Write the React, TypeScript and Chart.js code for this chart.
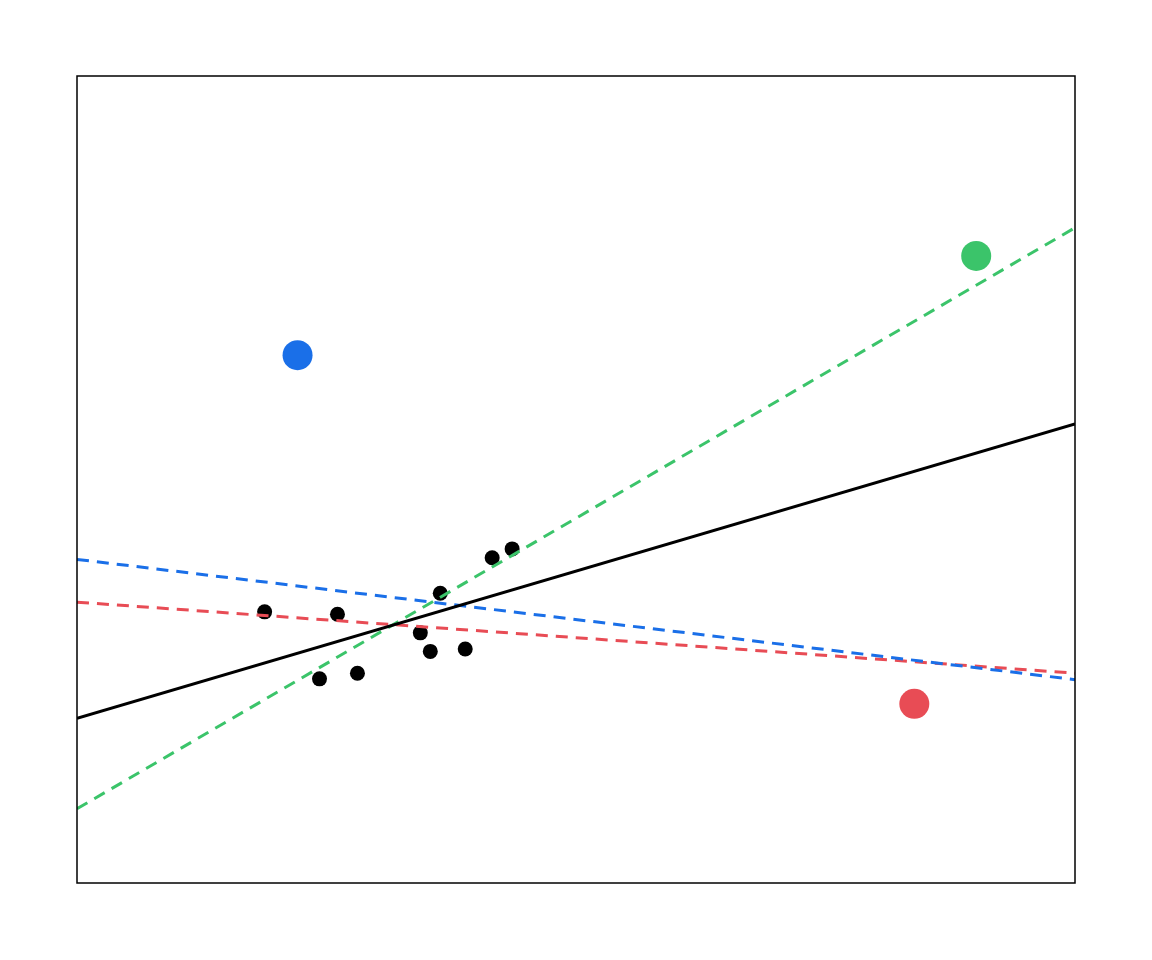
import { useEffect, useRef } from 'react';
import { Chart, registerables } from 'chart.js';

Chart.register(...registerables);

const clusterX = [1.88, 2.61, 2.43, 2.81, 3.44, 3.54, 3.64, 3.89, 4.16, 4.36];
const clusterY = [3.36, 3.33, 2.53, 2.6, 3.1, 2.87, 3.59, 2.9, 4.03, 4.14];

const bluePoint = { x: 2.21, y: 6.54 };
const greenPoint = { x: 9.01, y: 7.77 };
const redPoint = { x: 8.39, y: 2.22 };

const fitBase = [2.04, 5.69];
const fitGreen = [0.92, 8.12];
const fitBlue = [4.01, 2.52];
const fitRed = [3.48, 2.6];

const line = (ys: number[]) => [{ x: 0, y: ys[0] }, { x: 10, y: ys[1] }];

const frame = {
  id: 'frame',
  afterDraw(chart: Chart) {
    const { ctx, chartArea: a } = chart;
    ctx.save();
    ctx.strokeStyle = '#000';
    ctx.lineWidth = 1.5;
    ctx.strokeRect(a.left, a.top, a.right - a.left, a.bottom - a.top);
    ctx.restore();
  },
};

export default function App() {
  const canvasRef = useRef<HTMLCanvasElement>(null);

  useEffect(() => {
    if (!canvasRef.current) return;
    document.body.style.margin = '0';
    const dashed = (data: any, color: string) => ({
      type: 'line' as const, data, borderColor: color, borderWidth: 3,
      borderDash: [12, 8], pointRadius: 0, fill: false,
    });
    const chart = new Chart(canvasRef.current, {
      type: 'scatter',
      data: {
        datasets: [
          { type: 'line', data: line(fitBase), borderColor: '#000', borderWidth: 3, pointRadius: 0, fill: false },
          dashed(line(fitGreen), '#3bc46a'),
          dashed(line(fitBlue), '#1a6fe8'),
          dashed(line(fitRed), '#e84c55'),
          { data: clusterX.map((x, i) => ({ x, y: clusterY[i] })), backgroundColor: '#000', pointRadius: 7.5, borderWidth: 0 },
          { data: [bluePoint], backgroundColor: '#1a6fe8', pointRadius: 15, borderWidth: 0 },
          { data: [greenPoint], backgroundColor: '#3bc46a', pointRadius: 15, borderWidth: 0 },
          { data: [redPoint], backgroundColor: '#e84c55', pointRadius: 15, borderWidth: 0 },
        ] as any,
      },
      options: {
        responsive: false,
        animation: false,
        layout: { padding: { left: 77, top: 76, right: 77, bottom: 77 } },
        plugins: { legend: { display: false }, tooltip: { enabled: false } },
        scales: {
          x: { type: 'linear', min: 0, max: 10, display: false },
          y: { type: 'linear', min: 0, max: 10, display: false },
        },
      },
      plugins: [frame],
    });
    return () => chart.destroy();
  }, []);

  return <canvas ref={canvasRef} width={1152} height={960} style={{ display: 'block' }} />;
}
